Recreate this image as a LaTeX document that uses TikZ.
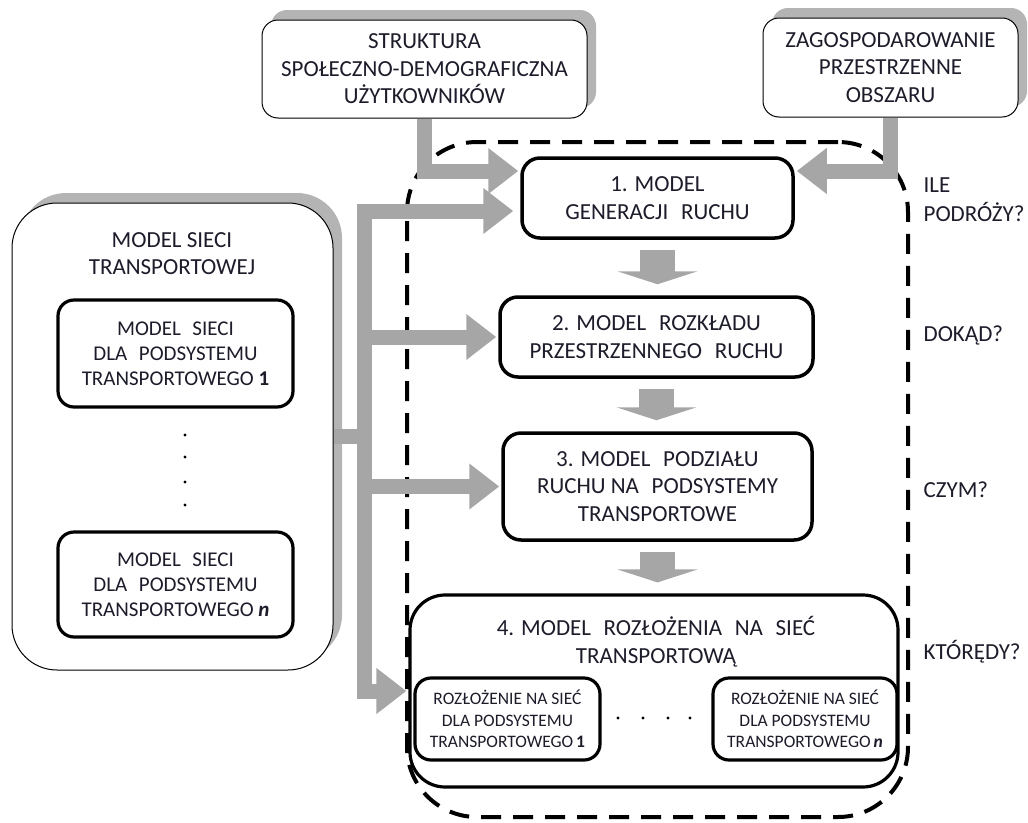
\documentclass[tikz,border=0pt]{standalone}
\usepackage{fontspec}
\setmainfont{Carlito}
\usetikzlibrary{arrows.meta, positioning, shadows}
\definecolor{cgrey}{HTML}{A6A6A6}
\definecolor{cshadow}{HTML}{B4B4B4}
\definecolor{ctext}{HTML}{1C1C2A}
\tikzset{
  every picture/.style={x=1pt, y=-1pt, line width=1.2pt},
  box/.style={draw, fill=white, rounded corners=#1, align=center, inner sep=0pt, text=ctext, font=\fontsize{23}{27.5}\selectfont},
  box/.default=16pt,
  frame/.style={box=#1, line width=3.2pt},
  frame/.default=16pt,
  lifted/.style={drop shadow={fill=cshadow, opacity=1, shadow xshift=9pt, shadow yshift=10pt}},
  subtext/.style={font=\fontsize{21}{25}\selectfont},
  small/.style={font=\fontsize{17.5}{21.5}\selectfont},
  title/.style={align=center, text=ctext, font=\fontsize{23}{27.5}\selectfont},
  note/.style={align=left, text=ctext, anchor=west, inner sep=0pt, font=\fontsize{23}{29}\selectfont},
  zone/.style={draw, line width=4pt, dash pattern=on 20pt off 12pt, rounded corners=70pt},
  link/.style={draw=cgrey, line width=15pt},
  arrow/.style={link, -{Triangle[length=30pt, width=44pt]}, shorten >=2pt},
  bigarrow/.style={draw=cgrey, line width=35pt, -{Triangle[length=13pt, width=80pt]}, shorten <=10pt, shorten >=11pt},
}

\begin{document}
\begin{tikzpicture}
  \useasboundingbox (0,0) rectangle (1028,822);
  % dashed zone round the four steps
  \node[zone, minimum width=501pt, minimum height=675pt] (core) at (657.5,479.5) {};
  % inputs at the top
  \node[box, lifted, line width=1pt, minimum width=325pt, minimum height=98pt] (soc) at (424.5,69) {STRUKTURA\\SPOŁECZNO-DEMOGRAFICZNA\\UŻYTKOWNIKÓW};
  \node[box, lifted, line width=1pt, minimum width=255pt, minimum height=99pt] (land) at (890.5,67.5) {ZAGOSPODAROWANIE\\PRZESTRZENNE\\OBSZARU};
  % network model on the left
  \node[box=45pt, lifted, line width=1pt, minimum width=321pt, minimum height=467pt] (net) at (172.5,436.5) {};
  \node[title] (nettitle) at (172,253.5) {MODEL SIECI\\TRANSPORTOWEJ};
  \node[frame, subtext, minimum width=235pt, minimum height=107pt] (net1) at (175.5,353.5) {MODEL\hspace{0.55em}SIECI\\DLA\hspace{0.55em}PODSYSTEMU\\TRANSPORTOWEGO\ \textbf{1}};
  \node[frame, subtext, minimum width=235pt, minimum height=105pt] (netn) at (175.5,584.5) {MODEL\hspace{0.55em}SIECI\\DLA\hspace{0.55em}PODSYSTEMU\\TRANSPORTOWEGO\ \textbf{\textit{n}}};
  \foreach \y in {435,457,482,505} \fill (185,\y) circle (1.6);
  % the four steps
  \node[frame=18pt, line width=3.5pt, minimum width=271pt, minimum height=80pt] (gen) at (657.5,198) {1. MODEL\\GENERACJI\hspace{0.55em}RUCHU};
  \node[frame=18pt, line width=3.5pt, minimum width=313pt, minimum height=80pt] (dist) at (656.5,337) {2. MODEL\hspace{0.55em}ROZKŁADU\\PRZESTRZENNEGO\hspace{0.55em}RUCHU};
  \node[frame=18pt, line width=3.5pt, minimum width=309pt, minimum height=107pt] (split) at (657.5,486.5) {3. MODEL\hspace{0.55em}PODZIAŁU\\RUCHU\ NA\hspace{0.55em}PODSYSTEMY\\TRANSPORTOWE};
  \node[frame=35pt, minimum width=488pt, minimum height=192pt] (assign) at (654,691) {};
  \node[title] (assigntitle) at (656,641.5) {4. MODEL\hspace{0.55em}ROZŁOŻENIA\hspace{0.55em}NA\hspace{0.55em}SIEĆ\\TRANSPORTOWĄ};
  \node[frame, small, minimum width=185pt, minimum height=82pt] (as1) at (507.5,719) {ROZŁOŻENIE NA SIEĆ\\DLA PODSYSTEMU\\TRANSPORTOWEGO\,\textbf{1}};
  \node[frame, small, minimum width=184pt, minimum height=82pt] (asn) at (805,719) {ROZŁOŻENIE NA SIEĆ\\DLA PODSYSTEMU\\TRANSPORTOWEGO\,\textbf{\textit{n}}};
  \foreach \x in {618,643,668,690} \fill (\x,718) circle (1.6);
  % questions
  \node[note] (q1) at (923,200) {ILE\\PODRÓŻY?};
  \node[note] (q2) at (923,335) {DOKĄD?};
  \node[note] (q3) at (923,490) {CZYM?};
  \node[note] (q4) at (923,652) {KTÓRĘDY?};
  % connectors
  \coordinate (j0) at (364,436);
  \coordinate (r1) at (0,171);
  \coordinate (r2) at (0,211);
  \draw[arrow] (soc) |- (gen.west |- r1);
  \draw[arrow] (land) |- (gen.east |- r1);
  \draw[link] (net.east |- j0) -- (j0);
  \draw[arrow, shorten >=7pt] (j0) |- (gen.west |- r2);
  \draw[arrow] (j0) |- (assign.west);
  \draw[arrow] (j0 |- dist.west) -- (dist.west);
  \draw[arrow] (j0 |- split.west) -- (split.west);
  \draw[bigarrow] (gen.south) -- (gen.south |- dist.north);
  \draw[bigarrow] (dist.south) -- (dist.south |- split.north);
  \draw[bigarrow] (split.south) -- (split.south |- assign.north);
\end{tikzpicture}
\end{document}
